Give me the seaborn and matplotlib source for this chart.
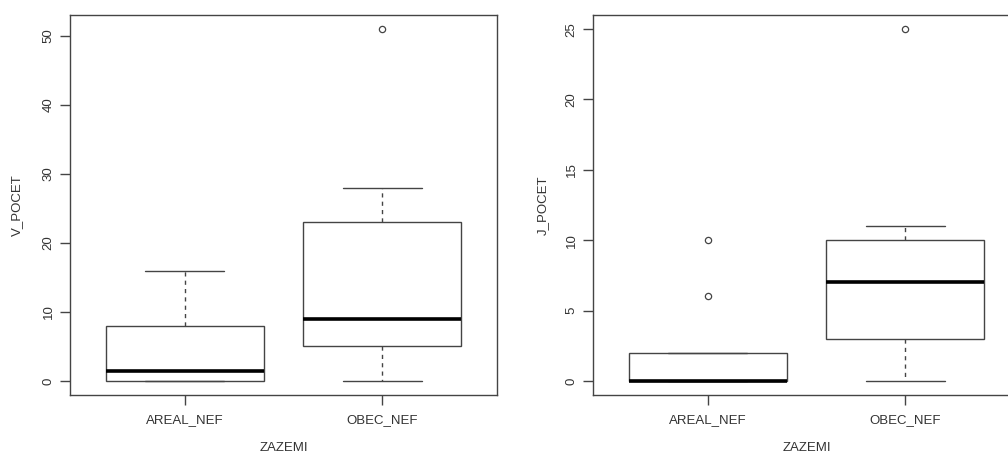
import pandas as pd
import seaborn as sns
import matplotlib.pyplot as plt

# categories and observations (read from the box summaries)
zazemi = ["AREAL_NEF", "OBEC_NEF"]
v_areal = [0, 0, 0, 1, 2, 8, 8, 16]
v_obec = [0, 3, 5, 7, 9, 20, 23, 28, 51]
j_areal = [0, 0, 0, 0, 0, 1, 2, 6, 10]
j_obec = [0, 2, 3, 5, 7, 8, 10, 11, 25]
v_ticks = [0, 10, 20, 30, 40, 50]
j_ticks = [0, 5, 10, 15, 20, 25]

v_df = pd.DataFrame({"ZAZEMI": [zazemi[0]] * len(v_areal) + [zazemi[1]] * len(v_obec),
                     "V_POCET": v_areal + v_obec})
j_df = pd.DataFrame({"ZAZEMI": [zazemi[0]] * len(j_areal) + [zazemi[1]] * len(j_obec),
                     "J_POCET": j_areal + j_obec})

sns.set_style("ticks")
plt.rcParams['font.family'] = ['Liberation Sans', 'DejaVu Sans']
plt.rcParams['text.color'] = '#333333'
plt.rcParams['axes.labelcolor'] = '#333333'
plt.rcParams['xtick.color'] = '#444444'
plt.rcParams['ytick.color'] = '#444444'
plt.rcParams['xtick.labelcolor'] = '#333333'
plt.rcParams['ytick.labelcolor'] = '#333333'

fig = plt.figure(figsize=(10.08, 4.55), dpi=100)
ax1 = fig.add_axes([0.0694, 0.1319, 0.4236, 0.835])
ax2 = fig.add_axes([0.5883, 0.1319, 0.4236, 0.835])

box_kw = dict(order=zazemi, color="white", linecolor="#444444", linewidth=1.0, width=0.8,
              whis=1.5,
              whiskerprops=dict(linestyle=(0, (3, 3))),
              medianprops=dict(color="black", linewidth=2.6),
              flierprops=dict(marker="o", markersize=4.5, markerfacecolor="none",
                              markeredgecolor="#444444", markeredgewidth=0.9))

panels = [(ax1, v_df, "V_POCET", v_ticks, (-2.04, 53.04), 14),
          (ax2, j_df, "J_POCET", j_ticks, (-1.0, 26.0), 12)]

for ax, df, col, ticks, lim, ypad in panels:
    sns.boxplot(data=df, x="ZAZEMI", y=col, ax=ax, **box_kw)
    ax.set_xlim(-0.58, 1.58)
    ax.set_ylim(*lim)
    ax.set_yticks(ticks)
    for s in ax.spines.values():
        s.set_visible(True)
        s.set_color("#444444")
        s.set_linewidth(1.0)
    ax.tick_params(axis="both", length=7, width=1.0, labelsize=9.5)
    ax.tick_params(axis="y", labelrotation=90, pad=4)
    ax.tick_params(axis="x", pad=7)
    for t in ax.get_yticklabels():
        t.set_va("center")
    ax.set_xlabel("ZAZEMI", fontsize=9.5, labelpad=11)
    ax.set_ylabel(col, fontsize=9.5, labelpad=ypad)

fig.savefig("out.png", dpi=100)
